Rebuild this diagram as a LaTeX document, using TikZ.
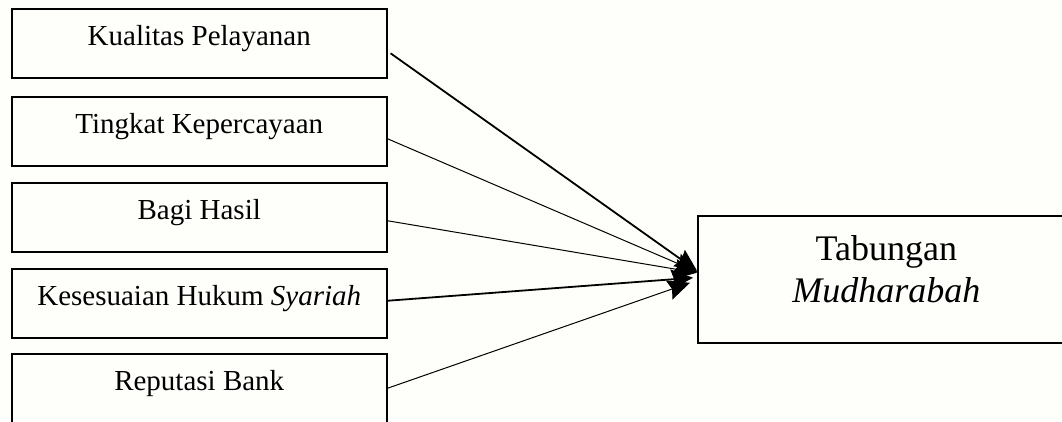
\documentclass[tikz,border=0pt]{standalone}
\usepackage{fontspec}
\setmainfont{Liberation Serif}
\usetikzlibrary{arrows.meta}
\definecolor{bg}{RGB}{254,254,250}
\begin{document}
\begin{tikzpicture}[x=1pt,y=-1pt,
  box/.style={draw, line width=1.5pt, minimum width=375pt, minimum height=69pt,
    inner sep=0pt, anchor=north west, font=\fontsize{29}{34}\selectfont,
    text height=20pt, text depth=15pt},
  tbox/.style={draw, line width=1.5pt, minimum width=377pt, minimum height=127pt,
    inner sep=0pt, anchor=north west, align=center, font=\fontsize{36}{42}\selectfont},
  tip/.style={-{Stealth[length=22pt,width=20pt,inset=3pt,line width=1pt]}},
  thinarrow/.style={line width=1pt, tip},
  thickarrow/.style={line width=1.8pt, tip}]
\useasboundingbox (0,0) rectangle (1062,421);
\clip (0,0) rectangle (1062,421);
\fill[bg] (0,0) rectangle (1062,421);
\node[box] (k)  at (11,8)   {Kualitas Pelayanan};
\node[box] (tk) at (11,96)  {Tingkat Kepercayaan};
\node[box] (bh) at (11,182) {Bagi Hasil};
\node[box] (kh) at (11,268) {Kesesuaian Hukum \textit{Syariah}};
\node[box] (rb) at (11,353) {Reputasi Bank};
\node[tbox] (t) at (697,215) {Tabungan\\\textit{Mudharabah}\rule[-20pt]{0pt}{0pt}};
\draw[thickarrow] ([xshift=3pt,yshift=-10pt]k.east) -- ([yshift=8.5pt]t.west);
\draw[thinarrow] ([yshift=-7.5pt]tk.east) -- ([yshift=7.5pt]t.west);
\draw[thinarrow] ([yshift=-3.5pt]bh.east) -- ([yshift=6.5pt]t.west);
\draw[thickarrow] ([yshift=2.5pt]kh.east) -- ([xshift=-4pt,yshift=1.5pt]t.west);
\draw[thinarrow] (rb.east) -- ([xshift=-7pt,yshift=-3.5pt]t.west);
\end{tikzpicture}
\end{document}
